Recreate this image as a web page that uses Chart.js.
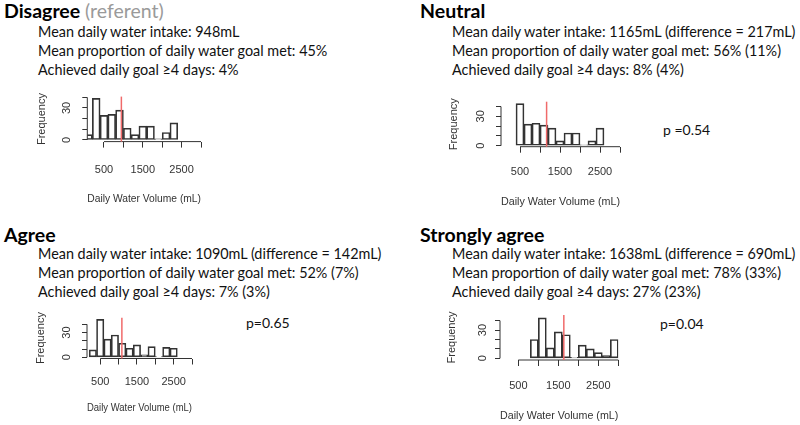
<!DOCTYPE html>
<html>
<head>
<meta charset="utf-8">
<script src="https://cdn.jsdelivr.net/npm/chart.js@4.4.0/dist/chart.umd.min.js"></script>
<style>
  html, body { margin: 0; padding: 0; background: #fff; }
  body { width: 800px; height: 425px; position: relative; overflow: hidden; font-family: "Lato", sans-serif; color: #111; }
  .title { position: absolute; font-weight: bold; font-size: 19.5px; line-height: 22px; white-space: nowrap; color: #000; }
  .title span { font-weight: normal; color: #9a9a9a; }
  .info { position: absolute; font-size: 14.4px; line-height: 19px; white-space: nowrap; }
  .pval { position: absolute; font-size: 14px; line-height: 17px; white-space: nowrap; }
  canvas { position: absolute; }
</style>
</head>
<body>
<div class="title" style="left:4px; top:0px">Disagree <span>(referent)</span></div>
<div class="info" style="left:38px; top:22px">
  <div>Mean daily water intake: 948mL</div>
  <div>Mean proportion of daily water goal met: 45%</div>
  <div>Achieved daily goal ≥4 days: 4%</div>
</div>

<div class="title" style="left:420px; top:0px">Neutral</div>
<div class="info" style="left:452px; top:22px">
  <div>Mean daily water intake: 1165mL (difference = 217mL)</div>
  <div>Mean proportion of daily water goal met: 56% (11%)</div>
  <div>Achieved daily goal ≥4 days: 8% (4%)</div>
</div>
<div class="pval" style="left:663px; top:121px">p =0.54</div>

<div class="title" style="left:4px; top:224px">Agree</div>
<div class="info" style="left:38px; top:244px">
  <div>Mean daily water intake: 1090mL (difference = 142mL)</div>
  <div>Mean proportion of daily water goal met: 52% (7%)</div>
  <div>Achieved daily goal ≥4 days: 7% (3%)</div>
</div>
<div class="pval" style="left:246px; top:314px">p=0.65</div>

<div class="title" style="left:420px; top:224px">Strongly agree</div>
<div class="info" style="left:452px; top:244px">
  <div>Mean daily water intake: 1638mL (difference = 690mL)</div>
  <div>Mean proportion of daily water goal met: 78% (33%)</div>
  <div>Achieved daily goal ≥4 days: 27% (23%)</div>
</div>
<div class="pval" style="left:660px; top:315px">p=0.04</div>

<canvas id="c1" width="175" height="116" style="left:35px; top:90px"></canvas>
<canvas id="c2" width="183" height="114" style="left:447px; top:95px"></canvas>
<canvas id="c3" width="166" height="104" style="left:34px; top:311px"></canvas>
<canvas id="c4" width="183" height="115" style="left:445px; top:308px"></canvas>

<script>
// Histogram data (200 mL bins)
const binWidth = 200;
const disagreeCounts = [5, 39, 23, 24, 28, 11, 5, 13, 13, 1, 7, 16];   // bins from 0
const neutralCounts = [43, 22, 23, 21, 18, 5, 13, 13, 1, 5, 18];       // bins from 400
const agreeCounts = [9, 46, 22, 27, 17, 11, 15, 3, 13, 1, 12, 11];     // bins from 200
const stronglyCounts = [20, 43, 11, 28, 25, 1, 14, 10, 6, 3, 20];      // bins from 800
const firstBinEdge = [0, 400, 200, 800];
const meanIntake = [948, 1165, 1090, 1638];

// Axis ticks
const xTickVals = [500, 1000, 1500, 2000, 2500, 3000];
const xLabelVals = [500, 1500, 2500];
const yTickVals = [0, 10, 20, 30, 40];
const yLabelVals = [0, 30];

const axisColor = "#333";
const axisFamily = "'Liberation Sans', Arial, sans-serif";

// Draws R-style axis lines, rotated y labels and the red mean line
const rStyle = {
  id: "rStyle",
  afterDatasetsDraw(chart, args, opts) {
    const { ctx, chartArea } = chart;
    const xs = chart.scales.x;
    const ys = chart.scales.y;
    ctx.save();
    ctx.strokeStyle = axisColor;
    ctx.lineWidth = 1;
    ctx.beginPath();
    ctx.moveTo(xs.getPixelForValue(xTickVals[0]), chartArea.bottom);
    ctx.lineTo(xs.getPixelForValue(xTickVals[xTickVals.length - 1]), chartArea.bottom);
    ctx.moveTo(chartArea.left, ys.getPixelForValue(yTickVals[0]));
    ctx.lineTo(chartArea.left, ys.getPixelForValue(yTickVals[yTickVals.length - 1]));
    ctx.stroke();

    ctx.fillStyle = axisColor;
    ctx.font = "11px " + axisFamily;
    ctx.textAlign = "center";
    ctx.textBaseline = "middle";
    yLabelVals.forEach((v) => {
      ctx.save();
      ctx.translate(chartArea.left - opts.off, ys.getPixelForValue(v));
      ctx.rotate(-Math.PI / 2);
      ctx.fillText(String(v), 0, 0);
      ctx.restore();
    });

    // mean line
    const mx = xs.getPixelForValue(opts.mean);
    ctx.strokeStyle = "#f06a6a";
    ctx.lineWidth = 1.5;
    ctx.beginPath();
    ctx.moveTo(mx, chartArea.top);
    ctx.lineTo(mx, chartArea.bottom);
    ctx.stroke();
    ctx.restore();
  },
};

// Layout of each small histogram (scale sizes fix the plot area)
// lh = line height of x tick labels, used to push them below the tick marks
const panels = [
  { id: "c1", counts: disagreeCounts, xMin: 70, yMin: -1.5, yMax: 40.6, yw: 52.3, xh: 64.4, pt: 6.6, pr: 9, lh: 4.0, off: 20 },
  { id: "c2", counts: neutralCounts, xMin: 25, yMin: -1, yMax: 45, yw: 54, xh: 62.3, pt: 6.7, pr: 10, lh: 3.45, off: 20 },
  { id: "c3", counts: agreeCounts, xMin: 140, yMin: -1.45, yMax: 48, yw: 53, xh: 56.5, pt: 6.7, pr: 8, lh: 3.1, off: 20 },
  { id: "c4", counts: stronglyCounts, xMin: 42, yMin: -1.8, yMax: 46, yw: 55, xh: 63, pt: 7, pr: 9.7, lh: 3.55, off: 17 },
];

panels.forEach((p, k) => {
  const data = p.counts.map((c, i) => ({
    x: firstBinEdge[k] + i * binWidth + binWidth / 2,
    y: c,
  }));

  new Chart(document.getElementById(p.id), {
    type: "bar",
    data: {
      datasets: [
        {
          data: data,
          backgroundColor: "rgba(255,255,255,0)",
          borderColor: "#333",
          borderWidth: 1,
          borderSkipped: false,
          barPercentage: 1,
          categoryPercentage: 1,
        },
      ],
    },
    options: {
      responsive: false,
      animation: false,
      devicePixelRatio: 1,
      layout: { padding: { left: 0, top: p.pt, right: p.pr, bottom: 0 } },
      plugins: {
        legend: { display: false },
        tooltip: { enabled: false },
        rStyle: { off: p.off, mean: meanIntake[k] },
      },
      scales: {
        x: {
          type: "linear",
          offset: false, // bar charts default to offset, which squeezes a linear axis
          min: p.xMin,
          max: 3000,
          afterBuildTicks: (s) => {
            s.ticks = xTickVals.map((v) => ({ value: v }));
          },
          afterFit: (s) => {
            s.height = p.xh;
            s.paddingLeft = 0;
            s.paddingRight = 0;
          },
          border: { display: false },
          grid: { offset: false, drawOnChartArea: false, drawTicks: true, tickLength: 6, color: axisColor },
          ticks: {
            autoSkip: false,
            maxRotation: 0,
            padding: 0,
            color: axisColor,
            font: { family: axisFamily, size: 11, lineHeight: p.lh },
            callback: (v) => (xLabelVals.includes(v) ? String(v) : ""),
          },
          title: { display: true, text: "Daily Water Volume (mL)", color: axisColor, font: { family: axisFamily, size: 11 }, padding: 0 },
        },
        y: {
          min: p.yMin,
          max: p.yMax,
          afterBuildTicks: (s) => {
            s.ticks = yTickVals.map((v) => ({ value: v }));
          },
          afterFit: (s) => {
            s.width = p.yw;
          },
          border: { display: false },
          grid: { drawOnChartArea: false, drawTicks: true, tickLength: 5, color: axisColor },
          ticks: { display: false },
          title: { display: true, text: "Frequency", color: axisColor, font: { family: axisFamily, size: 11 }, padding: 0 },
        },
      },
    },
    plugins: [rStyle],
  });
});
</script>
</body>
</html>
